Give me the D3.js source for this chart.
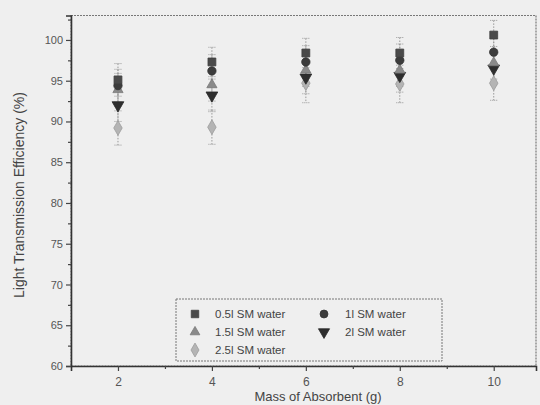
<!DOCTYPE html>
<html><head><meta charset="utf-8">
<script src="https://cdn.jsdelivr.net/npm/d3@7"></script>
<style>
html,body{margin:0;padding:0;background:#efefef;}
svg{display:block;font-family:"Liberation Sans",Arial,sans-serif;}
</style></head>
<body><svg id="c" width="540" height="405"></svg>
<script>
const masses = [2, 4, 6, 8, 10];
const seriesNames = ["0.5l SM water", "1l SM water", "1.5l SM water", "2l SM water", "2.5l SM water"];
const s05 = [95.1, 97.3, 98.4, 98.4, 100.6];
const s1  = [94.4, 96.2, 97.3, 97.5, 98.5];
const s15 = [93.9, 94.5, 96.3, 96.3, 97.2];
const s2  = [92.0, 93.2, 95.4, 95.6, 96.5];
const s25 = [89.2, 89.3, 94.7, 94.6, 94.7];
const e05 = [2.0, 1.8, 1.8, 1.9, 1.8];
const e1  = [2.0, 2.0, 2.0, 2.0, 2.0];
const e15 = [2.0, 2.0, 2.0, 2.0, 2.0];
const e2  = [2.0, 2.0, 2.0, 2.0, 2.0];
const e25 = [2.1, 2.1, 2.4, 2.3, 2.1];
const xTicks = [2, 4, 6, 8, 10];
const yTicks = [60, 65, 70, 75, 80, 85, 90, 95, 100];

const svg = d3.select("#c");
const x = d3.scaleLinear().domain([1, 10.9]).range([71, 536]);
const y = d3.scaleLinear().domain([60, 103]).range([366, 15.5]);

const series = [
  {name: seriesNames[0], v: s05, e: e05, sym: d3.symbolSquare, size: 62, fill: "#4a4a4a"},
  {name: seriesNames[1], v: s1,  e: e1,  sym: d3.symbolCircle, size: 55, fill: "#3c3c3c"},
  {name: seriesNames[2], v: s15, e: e15, sym: d3.symbolTriangle, size: 45, fill: "#8a8a8a"},
  {name: seriesNames[3], v: s2,  e: e2,  sym: d3.symbolTriangle, size: 60, fill: "#2e2e2e", down: true},
  {name: seriesNames[4], v: s25, e: e25, sym: d3.symbolDiamond, size: 62, fill: "#b4b4b4"}
];

// frame
svg.append("rect").attr("x", x.range()[0]).attr("y", y.range()[1])
  .attr("width", x.range()[1]-x.range()[0]).attr("height", y.range()[0]-y.range()[1])
  .attr("fill", "none").attr("stroke", "#777").attr("stroke-width", 1.2).attr("stroke-dasharray", "2,1");

// axes
const xAxis = d3.axisBottom(x).tickValues(xTicks).tickSize(5).tickPadding(6).tickFormat(d3.format("d"));
const gx = svg.append("g").attr("transform", `translate(0,${y.range()[0]})`).call(xAxis);
svg.append("g").attr("transform", `translate(0,${y.range()[0]})`)
  .call(d3.axisBottom(x).tickValues([3,5,7,9]).tickSize(3).tickFormat(""))
  .call(g => g.select(".domain").remove());
const yAxis = d3.axisLeft(y).tickValues(yTicks).tickSize(5).tickPadding(3);
const gy = svg.append("g").attr("transform", `translate(${x.range()[0]},0)`).call(yAxis);
svg.append("g").attr("transform", `translate(${x.range()[0]},0)`)
  .call(d3.axisLeft(y).tickValues(d3.range(62.5, 103, 5)).tickSize(3).tickFormat(""))
  .call(g => g.select(".domain").remove());
svg.selectAll(".domain").attr("stroke", "#333").attr("stroke-width", 1.6);
svg.selectAll(".tick line").attr("stroke", "#444").attr("stroke-width", 1.2);
svg.selectAll(".tick text").attr("fill", "#555").attr("font-size", 11)
  .attr("font-family", "'Liberation Sans',Arial,sans-serif");
gx.selectAll(".tick text").attr("font-size", 12);

// titles
svg.append("text").attr("x", 318).attr("y", 401).attr("text-anchor", "middle")
  .attr("font-size", 13).attr("fill", "#444").text("Mass of Absorbent (g)");
svg.append("text").attr("transform", "translate(24,195) rotate(-90)").attr("text-anchor", "middle")
  .attr("font-size", 14).attr("fill", "#444").text("Light Transmission Efficiency (%)");

// error bars
const eb = svg.append("g");
series.forEach(s => {
  masses.forEach((m, i) => {
    const cx = x(m), y1 = y(s.v[i] + s.e[i]), y2 = y(s.v[i] - s.e[i]);
    eb.append("line").attr("x1", cx).attr("x2", cx).attr("y1", y1).attr("y2", y2)
      .attr("stroke", "#999").attr("stroke-width", 1).attr("stroke-dasharray", "1.5,1.5");
    [y1, y2].forEach(yy => eb.append("line").attr("x1", cx-3.5).attr("x2", cx+3.5)
      .attr("y1", yy).attr("y2", yy).attr("stroke", "#999").attr("stroke-width", 1)
      .attr("stroke-dasharray", "1,1"));
  });
});

// markers
function drawSym(g, s, cx, cy, scale) {
  const p = d3.symbol().type(s.sym).size(s.size * (scale || 1))();
  g.append("path").attr("d", p)
    .attr("transform", `translate(${cx},${cy})` + (s.down ? " rotate(180)" : ""))
    .attr("fill", s.fill).attr("stroke", d3.color(s.fill).darker(0.4)).attr("stroke-width", 0.8);
}
const mk = svg.append("g");
[4, 3, 2, 1, 0].forEach(k => {
  const s = series[k];
  masses.forEach((m, i) => drawSym(mk, s, x(m), y(s.v[i])));
});

// legend
const lg = svg.append("g");
lg.append("rect").attr("x", 176).attr("y", 299).attr("width", 266).attr("height", 62)
  .attr("fill", "#efefef").attr("stroke", "#777").attr("stroke-width", 1).attr("stroke-dasharray", "2,1");
const legendPos = [
  {k: 0, sx: 195, tx: 215, y: 314},
  {k: 1, sx: 324, tx: 345, y: 314},
  {k: 2, sx: 195, tx: 215, y: 332},
  {k: 3, sx: 324, tx: 345, y: 332},
  {k: 4, sx: 195, tx: 215, y: 350}
];
legendPos.forEach(p => {
  const s = series[p.k];
  drawSym(lg, s, p.sx, p.y, 0.9);
  lg.append("text").attr("x", p.tx).attr("y", p.y + 4).attr("font-size", 11.5)
    .attr("fill", "#444").text(s.name);
});
</script></body></html>
